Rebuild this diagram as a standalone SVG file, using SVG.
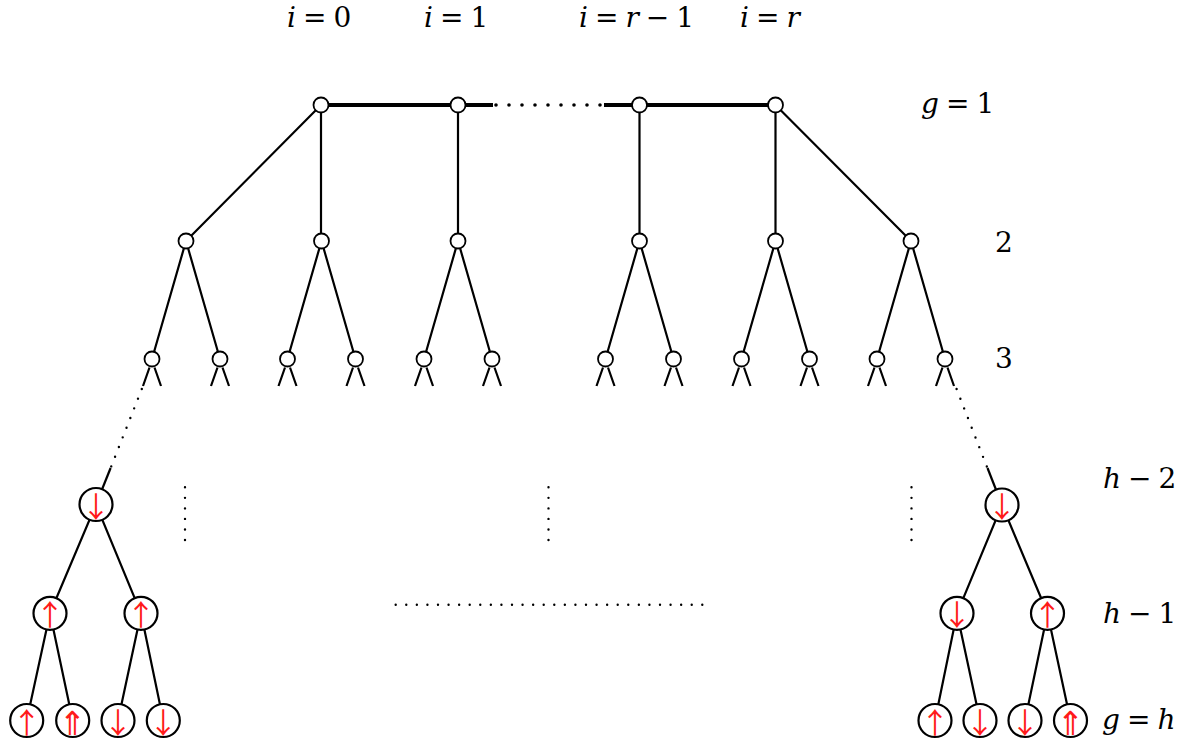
<svg xmlns="http://www.w3.org/2000/svg" width="1193" height="744" viewBox="0 0 1193 744">
<style>
.e{stroke:#000;stroke-width:2.2;fill:none;stroke-linecap:butt}
.thick{stroke:#000;stroke-width:4.2;fill:none}
.dot{stroke:#000;stroke-width:2.4;fill:none;stroke-linecap:round}
.bigdot{stroke:#000;stroke-width:3.6;fill:none;stroke-linecap:round}
.sn{fill:#fff;stroke:#000;stroke-width:1.8}
.bn{fill:#fff;stroke:#000;stroke-width:2.2}
.ar{fill:#ff1a1a;font-family:"Noto Sans CJK JP","DejaVu Sans",sans-serif;font-size:29px;text-anchor:middle;dominant-baseline:central}
.dbl{font-size:33px}
.lb{font-family:"DejaVu Serif",serif;font-size:28px;fill:#000}
.it{font-style:italic}
</style>
<rect width="1193" height="744" fill="#fff"/>
<g id="connectors">
  <path class="thick" d="M321,105H493M604,105H775.5"/>
  <path class="bigdot" d="M496,105H600.5" stroke-dasharray="0 13"/>
  <path class="e" d="M321,105L186,241M321,105V241M458,105V241M639.5,105V241M775.5,105V241M775.5,105L911,241"/>
  <path class="e" d="M186,241L152,359M186,241L220,359M321.5,241L287.5,359M321.5,241L355.5,359M458,241L424,359M458,241L492,359M639.5,241L605.5,359M639.5,241L673.5,359M775.5,241L741.5,359M775.5,241L809.5,359M911,241L877,359M911,241L945,359"/>
  <path class="e" d="M149.5,367.5L143,386M154.5,367.5L161,386
M217.5,367.5L211,386M222.5,367.5L229,386
M285,367.5L278.5,386M290,367.5L296.5,386
M353,367.5L346.5,386M358,367.5L364.5,386
M421.5,367.5L415,386M426.5,367.5L433,386
M489.5,367.5L483,386M494.5,367.5L501,386
M603,367.5L596.5,386M608,367.5L614.5,386
M671,367.5L664.5,386M676,367.5L682.5,386
M739,367.5L732.5,386M744,367.5L750.5,386
M807,367.5L800.5,386M812,367.5L818.5,386
M874.5,367.5L868,386M879.5,367.5L886,386
M942.5,367.5L936,386M947.5,367.5L954,386"/>
  <path class="dot" d="M141.8,389L111,467" stroke-dasharray="0 10.4"/>
  <path class="e" d="M110.6,468L96,504.5"/>
  <path class="dot" d="M956.6,389L987,467" stroke-dasharray="0 10.4"/>
  <path class="e" d="M987.5,468L1002,505"/>
  <path class="dot" d="M185,487.3V540.2M548.5,487.3V540.2M911.5,487.3V540.2" stroke-dasharray="0 10.54"/>
  <path class="dot" d="M395.7,604.7H702.5" stroke-dasharray="0 10.572"/>
  <path class="e" d="M96,504.5L50,613.3M96,504.5L141,613.3M50,613.3L26.7,720.5M50,613.3L72.7,720.5M141,613.3L118,720.5M141,613.3L163.3,720.5"/>
  <path class="e" d="M1002,505L957,613.3M1002,505L1047.5,613.3M957,613.3L935,720.5M957,613.3L980,720.5M1047.5,613.3L1025,720.5M1047.5,613.3L1070.5,720.5"/>
</g>
<g id="top-nodes">
  <circle id="n-t0" class="sn" cx="321" cy="105" r="7.5"/>
  <circle id="n-t1" class="sn" cx="458" cy="105" r="7.5"/>
  <circle id="n-t2" class="sn" cx="639.5" cy="105" r="7.5"/>
  <circle id="n-t3" class="sn" cx="775.5" cy="105" r="7.5"/>
</g>
<g id="level2-nodes">
  <circle class="sn" cx="186" cy="241" r="7.5"/>
  <circle class="sn" cx="321.5" cy="241" r="7.5"/>
  <circle class="sn" cx="458" cy="241" r="7.5"/>
  <circle class="sn" cx="639.5" cy="241" r="7.5"/>
  <circle class="sn" cx="775.5" cy="241" r="7.5"/>
  <circle class="sn" cx="911" cy="241" r="7.5"/>
</g>
<g id="level3-nodes">
  <circle class="sn" cx="152" cy="359" r="7.5"/>
  <circle class="sn" cx="220" cy="359" r="7.5"/>
  <circle class="sn" cx="287.5" cy="359" r="7.5"/>
  <circle class="sn" cx="355.5" cy="359" r="7.5"/>
  <circle class="sn" cx="424" cy="359" r="7.5"/>
  <circle class="sn" cx="492" cy="359" r="7.5"/>
  <circle class="sn" cx="605.5" cy="359" r="7.5"/>
  <circle class="sn" cx="673.5" cy="359" r="7.5"/>
  <circle class="sn" cx="741.5" cy="359" r="7.5"/>
  <circle class="sn" cx="809.5" cy="359" r="7.5"/>
  <circle class="sn" cx="877" cy="359" r="7.5"/>
  <circle class="sn" cx="945" cy="359" r="7.5"/>
</g>
<g id="left-subtree">
  <g id="L-h2"><circle class="bn" cx="96" cy="504.5" r="16.5"/><text class="ar" x="96" y="504.5">↓</text></g>
  <g id="L-h1a"><circle class="bn" cx="50" cy="613.3" r="16.5"/><text class="ar" x="50" y="613.3">↑</text></g>
  <g id="L-h1b"><circle class="bn" cx="141" cy="613.3" r="16.5"/><text class="ar" x="141" y="613.3">↑</text></g>
  <g id="L-b1"><circle class="bn" cx="26.7" cy="720.5" r="16.5"/><text class="ar" x="26.7" y="720.5">↑</text></g>
  <g id="L-b2"><circle class="bn" cx="72.7" cy="720.5" r="16.5"/><text class="ar dbl" x="72.7" y="720.5">⇑</text></g>
  <g id="L-b3"><circle class="bn" cx="118" cy="720.5" r="16.5"/><text class="ar" x="118" y="720.5">↓</text></g>
  <g id="L-b4"><circle class="bn" cx="163.3" cy="720.5" r="16.5"/><text class="ar" x="163.3" y="720.5">↓</text></g>
</g>
<g id="right-subtree">
  <g id="R-h2"><circle class="bn" cx="1002" cy="505" r="16.5"/><text class="ar" x="1002" y="505">↓</text></g>
  <g id="R-h1a"><circle class="bn" cx="957" cy="613.3" r="16.5"/><text class="ar" x="957" y="613.3">↓</text></g>
  <g id="R-h1b"><circle class="bn" cx="1047.5" cy="613.3" r="16.5"/><text class="ar" x="1047.5" y="613.3">↑</text></g>
  <g id="R-b1"><circle class="bn" cx="935" cy="720.5" r="16.5"/><text class="ar" x="935" y="720.5">↑</text></g>
  <g id="R-b2"><circle class="bn" cx="980" cy="720.5" r="16.5"/><text class="ar" x="980" y="720.5">↓</text></g>
  <g id="R-b3"><circle class="bn" cx="1025" cy="720.5" r="16.5"/><text class="ar" x="1025" y="720.5">↓</text></g>
  <g id="R-b4"><circle class="bn" cx="1070.5" cy="720.5" r="16.5"/><text class="ar dbl" x="1070.5" y="720.5">⇑</text></g>
</g>
<g id="labels">
  <text class="lb" x="287" y="26.7"><tspan class="it">i</tspan><tspan dx="7">=</tspan><tspan dx="7">0</tspan></text>
  <text class="lb" x="424" y="26.7"><tspan class="it">i</tspan><tspan dx="7">=</tspan><tspan dx="7">1</tspan></text>
  <text class="lb" x="579" y="26.7"><tspan class="it">i</tspan><tspan dx="7">=</tspan><tspan class="it" dx="7">r</tspan><tspan dx="7">−</tspan><tspan dx="7">1</tspan></text>
  <text class="lb" x="740" y="26.7"><tspan class="it">i</tspan><tspan dx="7">=</tspan><tspan class="it" dx="7">r</tspan></text>
  <text class="lb" x="921" y="113"><tspan class="it">g</tspan><tspan dx="7">=</tspan><tspan dx="7">1</tspan></text>
  <text class="lb" x="995" y="252">2</text>
  <text class="lb" x="995" y="368">3</text>
  <text class="lb" x="1103" y="488"><tspan class="it">h</tspan><tspan dx="7">−</tspan><tspan dx="7">2</tspan></text>
  <text class="lb" x="1103" y="623"><tspan class="it">h</tspan><tspan dx="7">−</tspan><tspan dx="7">1</tspan></text>
  <text class="lb" x="1102" y="729"><tspan class="it">g</tspan><tspan dx="7">=</tspan><tspan class="it" dx="7">h</tspan></text>
</g>
</svg>
